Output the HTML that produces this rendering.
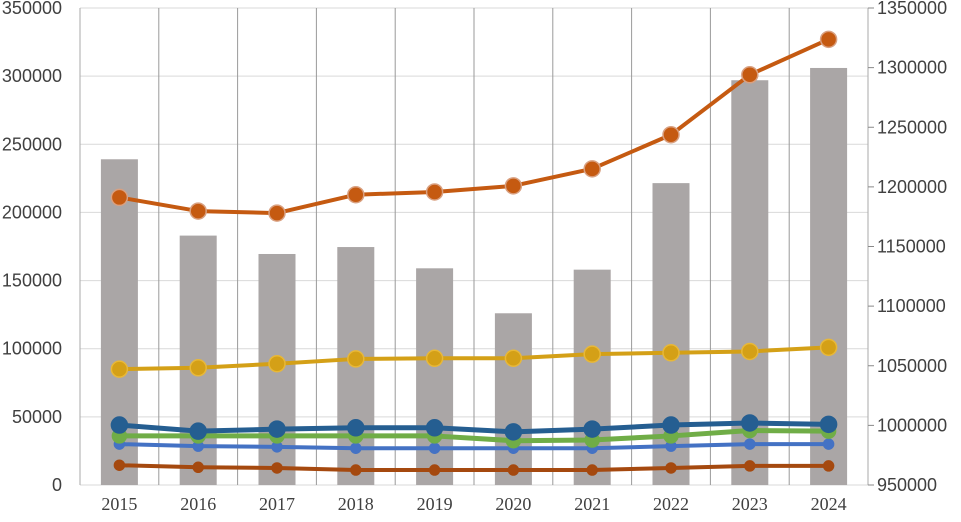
<!DOCTYPE html>
<html><head><meta charset="utf-8"><style>
body{margin:0;background:#fff;width:961px;height:517px;overflow:hidden}
svg text{font-family:"Liberation Sans",sans-serif;font-size:18px;fill:#404040}
</style></head><body>
<svg id="c" width="961" height="517"></svg>
<script>
const years=["2015","2016","2017","2018","2019","2020","2021","2022","2023","2024"];
const bars=[239000,183000,169500,174600,159000,126000,158000,221500,297000,306000];
const orange=[211000,201000,199500,213000,215000,219500,232000,257000,301000,327000];
const yellow=[85000,86000,89000,92500,93000,93000,96000,97000,98000,101000];
const darkBlue=[44000,39500,41000,42000,42000,39000,41000,44000,45500,44500];
const green=[36000,36000,36000,36000,36000,32500,33000,36000,40000,39500];
const lightBlue=[30000,28500,28000,27000,27000,27000,27000,28500,30000,30000];
const brown=[14500,13000,12500,11000,11000,11000,11000,12500,14000,14000];
const leftTicks=[0,50000,100000,150000,200000,250000,300000,350000];
const rightTicks=[950000,1000000,1050000,1100000,1150000,1200000,1250000,1300000,1350000];
const NS="http://www.w3.org/2000/svg",svg=document.getElementById('c');
const X0=80,X1=868,Y0=485,Y1=8,cw=(X1-X0)/years.length;
const y=v=>Y0-(v/350000)*(Y0-Y1);
const yr=v=>Y0-((v-950000)/400000)*(Y0-Y1);
const x=i=>X0+cw*(i+0.5);
function el(t,a,p){const e=document.createElementNS(NS,t);for(const k in a)e.setAttribute(k,a[k]);(p||svg).appendChild(e);return e;}
leftTicks.forEach(v=>{
 const g=el('line',{x1:X0,x2:X1,y1:y(v),y2:y(v),stroke:'#d9d9d9','stroke-width':1});
 
 
 const t=el('text',{x:62,y:y(v)+6,'text-anchor':'end'});t.textContent=v;
 
 
});
for(let i=0;i<=years.length;i++){
 const g=el('line',{x1:X0+cw*i,x2:X0+cw*i,y1:Y1,y2:Y0,stroke:(i==0||i==years.length)?'#aaa':'#9a9a9a','stroke-width':1});
 
 
}
rightTicks.forEach(v=>{
 el('line',{x1:X1,x2:X1+6,y1:yr(v),y2:yr(v),stroke:'#888'});
 const t=el('text',{x:877,y:yr(v)+6});t.textContent=v;
 
 
});
years.forEach((yy,i)=>{
 const b=el('rect',{x:x(i)-18.5,y:y(bars[i]),width:37,height:Y0-y(bars[i]),fill:'#aaa6a6'});
 
 
 const t=el('text',{x:x(i),y:510,'text-anchor':'middle',style:'font-family:"Liberation Serif",serif;font-size:18px'});t.textContent=yy;
 
 
});
function series(d,color,w,r,name,stroke){
 const p=el('polyline',{points:d.map((v,i)=>x(i)+','+y(v)).join(' '),fill:'none',stroke:color,'stroke-width':w,'stroke-linejoin':'round'});
 
 
 d.forEach((v,i)=>{const c=el('circle',{cx:x(i),cy:y(v),r:r,fill:color,stroke:stroke||color,'stroke-width':1.5});
 
 });
}
series(brown,'#a5490f',4,5,'brown-series');
series(lightBlue,'#4472c4',4,5,'light-blue-series');
series(green,'#70ad47',5,7,'green-series');
series(darkBlue,'#255e91',5,8,'dark-blue-series');
series(yellow,'#d4a017',4,8,'yellow-series','#e8b838');
series(orange,'#c55a11',4,8,'orange-series','#d9a080');
</script>
</body></html>
